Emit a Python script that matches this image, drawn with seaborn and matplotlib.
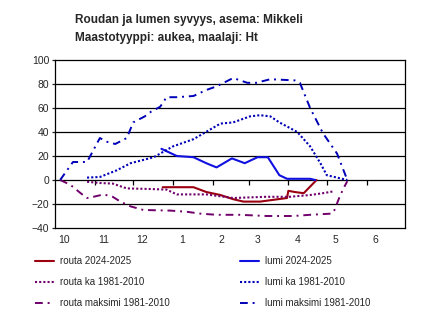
import matplotlib
matplotlib.use("Agg")
import matplotlib.pyplot as plt
import seaborn as sns
import pandas as pd

sns.set_style("white")
plt.rcParams['font.family'] = ['Liberation Sans', 'DejaVu Sans']

# x = days since 1 October
routa_2425_x = [84, 108, 118, 129, 139, 147, 160, 181, 182, 187, 194, 204]
routa_2425_y = [-6, -6, -10, -12.5, -16, -18, -18, -15, -9, -10, -11, 0]

lumi_2425_x = [83, 95, 108, 118, 126, 138, 148, 158, 166, 175, 181, 189, 199, 203]
lumi_2425_y = [26, 20, 19, 14, 10.5, 18, 14, 19, 19, 4, 1, 1, 1, 0]

routa_ka_x = [25, 35, 45, 56, 74, 87, 95, 118, 139, 165, 183, 199, 209, 217]
routa_ka_y = [-1.5, -2.5, -3, -7, -7.5, -8, -12, -12, -15, -14, -14, -12.5, -11, -9.5]

lumi_ka_x = [25, 35, 48, 59, 77, 92, 108, 129, 139, 152, 160, 168, 175, 189, 199, 207, 212, 220, 228]
lumi_ka_y = [2, 2.5, 8, 14, 19, 28, 34, 47, 48, 53, 54, 53, 48, 40, 28, 14, 4, 2, 0]

routa_max_x = [4, 12, 20, 25, 30, 38, 45, 51, 59, 69, 90, 103, 113, 126, 144, 165, 186, 199, 216, 218, 222, 225, 228]
routa_max_y = [0, -4, -11, -15, -14, -12, -14, -18, -22, -25, -25.5, -26.5, -28, -29, -29, -30, -30, -29, -28, -25, -14, -7, -1]

lumi_max_x = [4, 14, 25, 35, 40, 47, 56, 61, 70, 75, 82, 87, 95, 108, 118, 126, 139, 150, 157, 168, 187, 191, 199, 209, 220, 228]
lumi_max_y = [0, 15, 15, 35, 32, 30, 35, 48, 53, 57, 61, 69, 69, 70, 75, 78, 85, 81, 81, 84, 83, 81, 60, 39, 22, 0]

month_labels = ["10", "11", "12", "1", "2", "3", "4", "5", "6"]
month_starts = [0, 31, 61, 92, 123, 151, 182, 212, 243]

fig = plt.figure(figsize=(4.30, 3.28), dpi=100)
ax = fig.add_axes([55/430, 1 - 228/328, 350/430, 168/328])

dot = (0, (1, 1))
dashdot = (0, (4, 2.5, 1, 2.5))
red = "#9A0010"
purple = "#70006A"
blue = "#1010E0"
dblue = "#0000B8"

series = [
    (routa_2425_x, routa_2425_y, red, "-", 1.5, "routa 2024-2025"),
    (routa_ka_x, routa_ka_y, purple, dot, 1.5, "routa ka 1981-2010"),
    (routa_max_x, routa_max_y, purple, dashdot, 1.4, "routa maksimi 1981-2010"),
    (lumi_2425_x, lumi_2425_y, blue, "-", 1.5, "lumi 2024-2025"),
    (lumi_ka_x, lumi_ka_y, dblue, dot, 1.5, "lumi ka 1981-2010"),
    (lumi_max_x, lumi_max_y, dblue, dashdot, 1.4, "lumi maksimi 1981-2010"),
]
handles = []
for xs, ys, c, ls, lw, lab in series:
    df = pd.DataFrame({"x": xs, "y": ys})
    sns.lineplot(data=df, x="x", y="y", ax=ax, color=c, linewidth=lw,
                 estimator=None, sort=False, label=lab)
    ln = ax.get_lines()[-1]
    ln.set_linestyle(ls)
    handles.append(ln)
ax.get_legend().remove()

ax.set_xlim(0, 273)
ax.set_ylim(-40, 100)
ax.set_yticks(range(-40, 101, 20))
for v in range(-20, 100, 20):
    ax.axhline(v, color="black", linewidth=0.9, zorder=0)
for s in ax.spines.values():
    s.set_color("black")
    s.set_linewidth(0.9)
ax.set_xlabel("")
ax.set_ylabel("")
ax.set_xticks([m + 7 for m in month_starts])
ax.set_xticklabels(month_labels)
ax.tick_params(axis="x", length=0, pad=5, labelsize=7.5)
ax.tick_params(axis="y", length=2.5, width=0.9, direction="out", pad=1.5, labelsize=7.5, left=True)

sec = ax.secondary_xaxis(40/140)
sec.set_xticks(month_starts[1:])
sec.set_xticklabels([])
sec.tick_params(axis="x", length=3.8, width=0.9, direction="out", color="black")
sec.spines["bottom"].set_visible(False)

fig.text(75/430, 1 - 20/328, "Roudan ja lumen syvyys, asema: Mikkeli", fontsize=8.5,
         fontweight="bold", va="center", ha="left")
fig.text(75/430, 1 - 38/328, "Maastotyyppi: aukea, maalaji: Ht", fontsize=8.5,
         fontweight="bold", va="center", ha="left")

leg_kw = dict(frameon=False, fontsize=7, handlelength=2.0, handletextpad=0.6,
              labelspacing=1.15, borderaxespad=0, borderpad=0)
fig.legend(handles[:3], [h.get_label() for h in handles[:3]], loc="upper left",
           bbox_to_anchor=(35/430, 1 - 256/328), **leg_kw)
fig.legend(handles[3:], [h.get_label() for h in handles[3:]], loc="upper left",
           bbox_to_anchor=(240/430, 1 - 256/328), **leg_kw)

fig.savefig("out.png", dpi=100)
